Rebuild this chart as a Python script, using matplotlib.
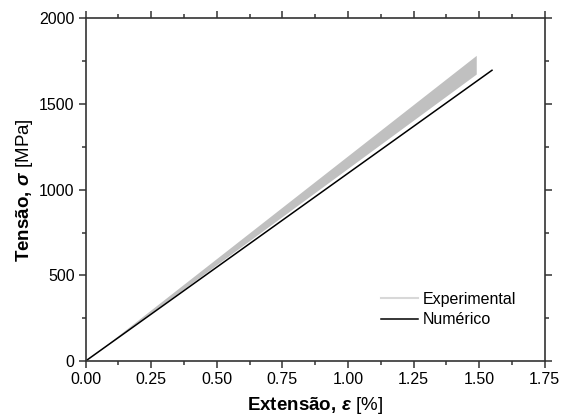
import matplotlib
matplotlib.use("Agg")
import matplotlib.pyplot as plt
from matplotlib.ticker import MultipleLocator, FormatStrFormatter
from matplotlib.lines import Line2D

plt.rcParams['font.family'] = ['Liberation Sans', 'DejaVu Sans']
plt.rcParams['mathtext.fontset'] = 'custom'
plt.rcParams['mathtext.rm'] = 'Liberation Sans'
plt.rcParams['mathtext.bf'] = 'Liberation Sans:bold'
plt.rcParams['mathtext.bfit'] = 'Liberation Sans:bold:italic'
plt.rcParams['mathtext.it'] = 'Liberation Sans:italic'

# Data
exp_strain = [0.0, 1.489]
exp_lower = [0.0, 1675.0]
exp_upper = [0.0, 1784.0]
num_strain = [0.0, 1.549]
num_stress = [0.0, 1697.0]

fig = plt.figure(figsize=(5.67, 4.19), dpi=100)
ax = fig.add_axes([0.151, 0.1384, 0.8097, 0.8178])

ax.fill_between(exp_strain, exp_lower, exp_upper, color='#c0c0c0', linewidth=0)
ax.plot(num_strain, num_stress, color='black', lw=1.1)

ax.set_xlim(0, 1.75)
ax.set_ylim(0, 2000)
ax.xaxis.set_major_locator(MultipleLocator(0.25))
ax.xaxis.set_minor_locator(MultipleLocator(0.125))
ax.yaxis.set_major_locator(MultipleLocator(500))
ax.yaxis.set_minor_locator(MultipleLocator(250))
ax.xaxis.set_major_formatter(FormatStrFormatter('%.2f'))

for s in ax.spines.values():
    s.set_linewidth(1.2)
    s.set_color('#333333')

ax.tick_params(which='both', direction='out', top=True, right=True,
               colors='#333333', labelcolor='black', labelsize=11.5)
ax.tick_params(which='major', length=5, width=1.1, pad=3)
ax.tick_params(which='minor', length=3, width=1.1)

ax.set_xlabel(r'$\mathbf{Extensão,}\/\mathbfit{\varepsilon}$ [%]', fontsize=13.5, labelpad=6)
ax.set_ylabel(r'$\mathbf{Tensão,}\/\mathbfit{\sigma}$ [MPa]', fontsize=13.5, labelpad=3)

handles = [Line2D([], [], color='#d8d8d8', lw=1.5),
           Line2D([], [], color='black', lw=1.1)]
ax.legend(handles, ['Experimental', 'Numérico'], frameon=False,
          loc='center left', bbox_to_anchor=(0.643, 0.15), borderpad=0,
          borderaxespad=0, handlelength=2.3, handletextpad=0.3,
          labelspacing=0.35, fontsize=11.5)

fig.savefig('out.png', dpi=100)
